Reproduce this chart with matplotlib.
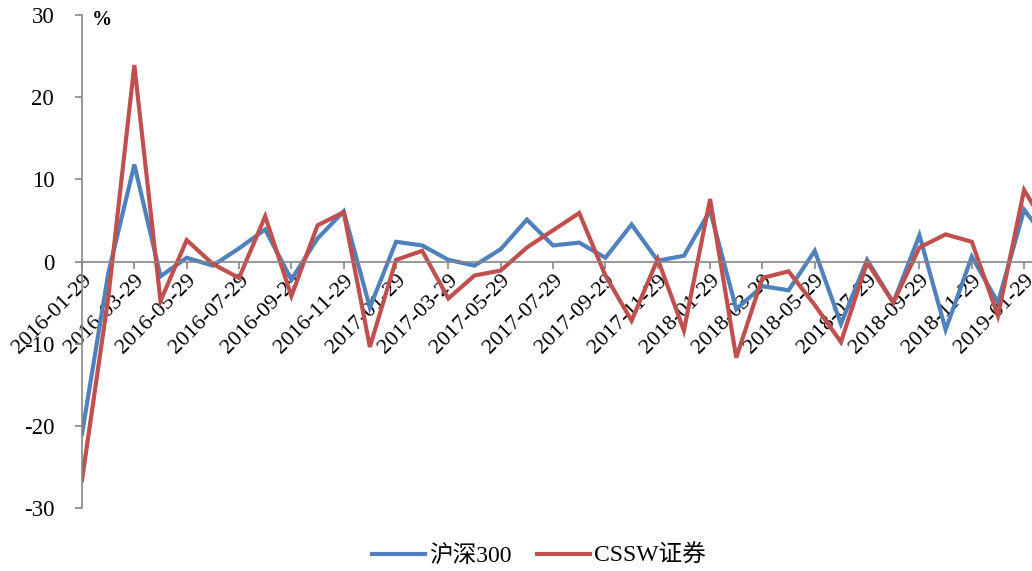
import matplotlib
matplotlib.use("Agg")
import matplotlib.pyplot as plt
import numpy as np

# Monthly returns (%), 2016-01 .. 2019-02
dates = [
    "2016-01-29", "2016-02-29", "2016-03-29", "2016-04-29", "2016-05-29", "2016-06-29",
    "2016-07-29", "2016-08-29", "2016-09-29", "2016-10-29", "2016-11-29", "2016-12-29",
    "2017-01-29", "2017-02-28", "2017-03-29", "2017-04-29", "2017-05-29", "2017-06-29",
    "2017-07-29", "2017-08-29", "2017-09-29", "2017-10-29", "2017-11-29", "2017-12-29",
    "2018-01-29", "2018-02-28", "2018-03-29", "2018-04-29", "2018-05-29", "2018-06-29",
    "2018-07-29", "2018-08-29", "2018-09-29", "2018-10-29", "2018-11-29", "2018-12-29",
    "2019-01-29", "2019-02-28",
]
hs300 = [
    -21.0, -1.5, 11.8, -1.8, 0.45, -0.5, 1.6, 3.9, -2.2, 2.8, 6.1, -5.6,
    2.4, 1.95, 0.2, -0.5, 1.5, 5.1, 1.95, 2.3, 0.45, 4.5, 0.1, 0.7,
    6.2, -5.8, -3.0, -3.5, 1.3, -7.6, 0.2, -5.0, 3.2, -8.3, 0.6, -5.0,
    6.3, 2.1,
]
cssw_sec = [
    -26.6, -4.5, 23.9, -4.8, 2.6, -0.3, -2.0, 5.5, -4.2, 4.4, 6.0, -10.4,
    0.2, 1.3, -4.5, -1.7, -1.1, 1.7, 3.8, 5.9, -1.7, -7.2, 0.3, -8.4,
    7.6, -11.7, -2.0, -1.2, -5.3, -9.8, -0.1, -5.0, 1.7, 3.3, 2.4, -6.6,
    8.7, 3.4,
]
series_names = ["沪深300", "CSSW证券"]
y_ticks = [-30, -20, -10, 0, 10, 20, 30]

serif = ["Liberation Serif", "Noto Sans CJK SC", "DejaVu Sans"]
plt.rcParams["font.family"] = serif

W, H = 1032, 571
fig = plt.figure(figsize=(W / 100, H / 100), dpi=100)
left = 82 / W
bottom = (H - 508) / H
top_px = 15
ax = fig.add_axes([left, bottom, 1 - left, (508 - top_px) / H])

x = np.arange(len(dates))
blue = "#4F81BD"
red = "#C0504D"
ax.plot(x, hs300, color=blue, lw=3.0, label=series_names[0], solid_joinstyle="miter")
ax.plot(x, cssw_sec, color=red, lw=3.0, label=series_names[1], solid_joinstyle="miter")

px_per_month = 26.17
ax.set_xlim(0, (W - 82) / px_per_month)
ax.set_ylim(-30, 30)

grey = "#868686"
for s in ["top", "right"]:
    ax.spines[s].set_visible(False)
ax.spines["left"].set_color(grey)
ax.spines["bottom"].set_color(grey)
ax.spines["bottom"].set_position(("data", 0))
ax.spines["left"].set_linewidth(1.2)
ax.spines["bottom"].set_linewidth(1.2)

ax.set_yticks(y_ticks)
ax.set_yticklabels([str(v) for v in y_ticks], fontsize=16.5)
tick_idx = list(range(0, len(dates), 2))
ax.set_xticks(tick_idx)
ax.set_xticklabels([dates[i] for i in tick_idx], fontsize=16, rotation=45,
                   ha="right", va="top", rotation_mode="anchor")
ax.tick_params(axis="both", colors=grey, labelcolor="black", length=5, width=1.2, direction="out")
ax.tick_params(axis="y", pad=15)
ax.tick_params(axis="x", pad=2)

ax.text(92 / W, (H - 20) / H, "%", transform=fig.transFigure, fontsize=14.5,
        fontweight="bold", ha="left", va="center")

leg = fig.legend(loc="center", bbox_to_anchor=(539 / W, (H - 556) / H), ncol=2,
                 frameon=False, fontsize=17, handlelength=2.25, columnspacing=1.1,
                 handletextpad=0.15)

fig.savefig("out.png", dpi=100)
